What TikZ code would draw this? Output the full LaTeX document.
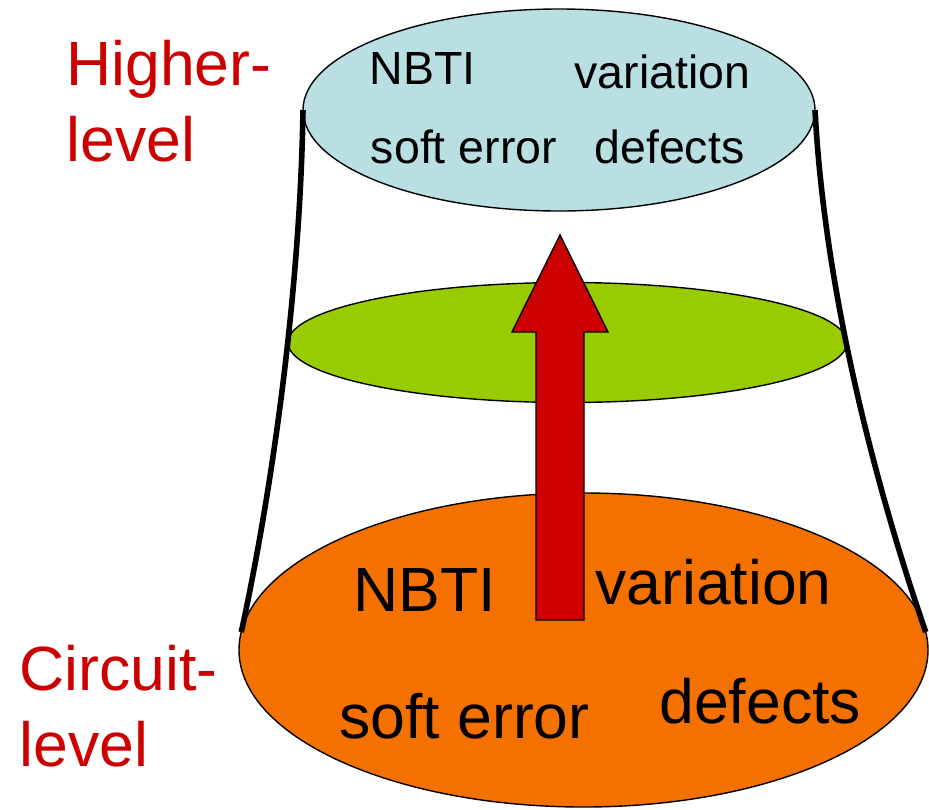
\documentclass[tikz,border=0pt]{standalone}
\usepackage{fontspec}
\setmainfont{Liberation Sans}
\usetikzlibrary{shapes.geometric}
\definecolor{upper}{HTML}{B9DFE3}
\definecolor{middle}{HTML}{99CC00}
\definecolor{lower}{HTML}{F47100}
\definecolor{flow}{HTML}{CC0000}
\definecolor{tag}{HTML}{CC0000}

\begin{document}
\begin{tikzpicture}[x=0.5pt, y=-0.5pt,
  layer/.style={ellipse, draw=black, line width=0.7pt, inner sep=0pt, outer sep=0pt},
  side/.style={line width=2.8pt, draw=black},
  inlbl/.style={anchor=base west, inner sep=0pt, font=\fontsize{23.25pt}{28pt}\selectfont},
  biglbl/.style={anchor=base west, inner sep=0pt, font=\fontsize{31.25pt}{38pt}\selectfont},
  tierlbl/.style={anchor=north west, inner sep=0pt, align=left, text=tag,
    font=\fontsize{31.25pt}{38pt}\selectfont}]
  \useasboundingbox (0,0) rectangle (929,809);

  % Layers, top to bottom
  \node[layer, fill=upper, minimum width=256pt, minimum height=101pt] (upper) at (559,110) {};
  \node[layer, fill=middle, minimum width=279.5pt, minimum height=60pt] (middle) at (567.5,342.5) {};
  \node[layer, fill=lower, minimum width=344.5pt, minimum height=157pt] (lower) at (583.5,650) {};

  % Flanks joining top and bottom layer
  \draw[side] (upper.west) .. controls (300,300) and (270,500) .. (lower.177);
  \draw[side] (upper.east) .. controls (825,300) and (880,500) .. (lower.3);

  % Block arrow pointing up
  \draw[fill=flow, line width=0.7pt, line join=miter]
    (536,620) -- (536,332) -- (512,332) -- (560,235) -- (608,332) -- (584,332) -- (584,620) -- cycle;

  % Effects in each layer
  \foreach \txt/\x/\y [count=\i] in {NBTI/369.5/84, variation/574/88, soft error/370.5/163, defects/594/163}
    \node[inlbl] (hi-\i) at (\x,\y) {\txt};
  \foreach \txt/\x/\y [count=\i] in {NBTI/353/611, variation/595/604, soft error/339/738, defects/659/723}
    \node[biglbl] (lo-\i) at (\x,\y) {\txt};

  % Tier names
  \node[tierlbl] (hi-name) at (66,40) {Higher-\\level};
  \node[tierlbl] (lo-name) at (19,645) {Circuit-\\level};
\end{tikzpicture}
\end{document}
